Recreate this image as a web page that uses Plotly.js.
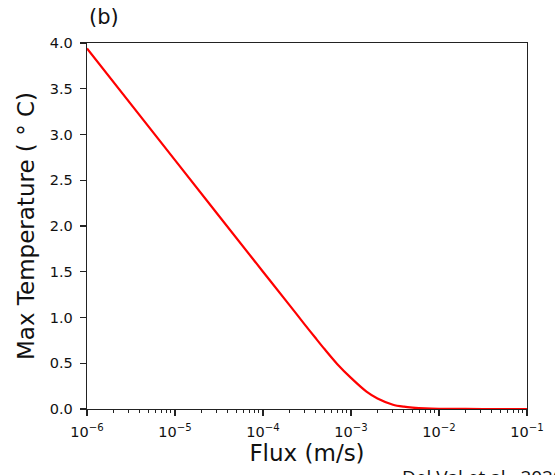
<!DOCTYPE html>
<html>
<head>
<meta charset="utf-8">
<script src="https://cdn.plot.ly/plotly-3.0.1.min.js"></script>
<style>html,body{margin:0;padding:0;background:#fff;}#chart{width:555px;height:475px;}</style>
</head>
<body>
<div id="chart"></div>
<script>
const flux = [1e-6, 1e-5, 1e-4, 2e-4, 3e-4, 4e-4, 5e-4, 7e-4, 1e-3, 1.5e-3, 2e-3, 3e-3, 4e-3, 5e-3, 7e-3, 1e-2, 2e-2, 5e-2, 1e-1];
const maxTemp = [3.94, 2.72, 1.50, 1.135, 0.92, 0.77, 0.655, 0.49, 0.34, 0.19, 0.115, 0.047, 0.025, 0.015, 0.006, 0.002, 0.0005, 0, 0];
const yTicks = [0, 0.5, 1.0, 1.5, 2.0, 2.5, 3.0, 3.5, 4.0];
const yTickText = ['0.0', '0.5', '1.0', '1.5', '2.0', '2.5', '3.0', '3.5', '4.0'];
const xTicks = [1e-6, 1e-5, 1e-4, 1e-3, 1e-2, 1e-1];
const xTickText = ['10<sup>−6</sup>', '10<sup>−5</sup>', '10<sup>−4</sup>', '10<sup>−3</sup>', '10<sup>−2</sup>', '10<sup>−1</sup>'];

const minorVals = [];
for (let e = -6; e < -1; e++) {
  for (let m = 2; m <= 9; m++) minorVals.push(m * Math.pow(10, e));
}

const font = 'DejaVu Sans, sans-serif';
const axisCommon = {
  showline: true, mirror: true, linecolor: '#222', linewidth: 1.3,
  ticks: 'outside', ticklen: 6, tickwidth: 1.2, tickcolor: '#222',
  showgrid: false, zeroline: false,
  tickfont: {family: font, size: 14.5, color: '#111'}
};

const data = [{
  x: flux, y: maxTemp, type: 'scatter', mode: 'lines',
  line: {color: '#ff0000', width: 2.2, shape: 'spline', smoothing: 0.8},
  hoverinfo: 'skip'
}];

const layout = {
  width: 555, height: 475,
  margin: {l: 87, r: 28, t: 43, b: 66},
  paper_bgcolor: '#fff', plot_bgcolor: '#fff',
  showlegend: false,
  title: {text: '(b)', font: {family: font, size: 21, color: '#111'}, x: 89/555, xanchor: 'left', y: 1 - 17/475, yanchor: 'middle'},
  xaxis: Object.assign({}, axisCommon, {
    type: 'log', range: [-6, -1],
    tickmode: 'array', tickvals: xTicks, ticktext: xTickText,
    ticklabelstandoff: 3,
    minor: {tickmode: 'array', tickvals: minorVals, ticks: 'outside', ticklen: 3, tickwidth: 1, tickcolor: '#222', showgrid: false},
    title: {text: 'Flux (m/s)', font: {family: font, size: 23, color: '#111'}, standoff: 4}
  }),
  yaxis: Object.assign({}, axisCommon, {
    range: [0, 4], tickmode: 'array', tickvals: yTicks, ticktext: yTickText,
    ticklabelstandoff: 4,
    title: {text: 'Max Temperature ( ° C)', font: {family: font, size: 23, color: '#111'}, standoff: 8}
  }),
  annotations: [{
    text: 'Del Val et al., 2020', xref: 'paper', yref: 'paper',
    x: (400 - 87) / 440, y: -(462 - 409) / 366, xanchor: 'left', yanchor: 'top',
    showarrow: false, font: {family: 'Open Sans, sans-serif', size: 19, color: '#111'}
  }]
};

Plotly.newPlot('chart', data, layout, {staticPlot: true, displayModeBar: false});
</script>
</body>
</html>
